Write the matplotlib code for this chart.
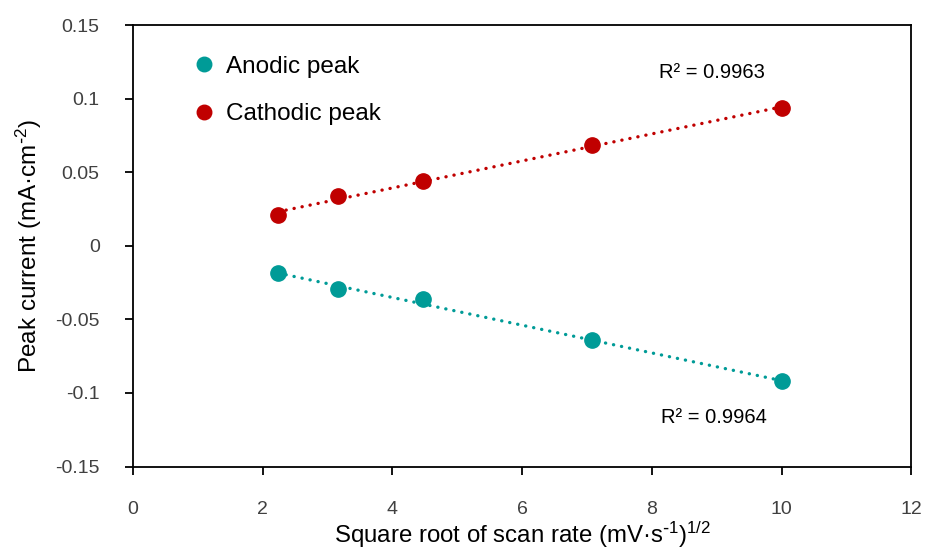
import numpy as np
import matplotlib
matplotlib.use("Agg")
import matplotlib.pyplot as plt

plt.rcParams['font.family'] = ['Liberation Sans', 'DejaVu Sans']
plt.rcParams['mathtext.default'] = 'regular'

# Data
sqrt_scan_rate = [2.236, 3.162, 4.472, 7.071, 10.0]
anodic_peak = [-0.0187, -0.0296, -0.0364, -0.0643, -0.0922]
cathodic_peak = [0.0207, 0.0337, 0.0439, 0.0684, 0.0935]
r2_anodic = "R² = 0.9964"
r2_cathodic = "R² = 0.9963"
x_ticks = [0, 2, 4, 6, 8, 10, 12]
y_ticks = [-0.15, -0.1, -0.05, 0, 0.05, 0.1, 0.15]
y_tick_labels = ["-0.15", "-0.1", "-0.05", "0", "0.05", "0.1", "0.15"]

teal = "#009B97"
red = "#C00000"

fig = plt.figure(figsize=(9.25, 5.49), dpi=100)
ax = fig.add_axes([133/925, 1-466.5/549, (911.5-133)/925, (466.5-25)/549])

x = np.array(sqrt_scan_rate)
xs = np.array([x.min(), x.max()])
for ys, c in [(anodic_peak, teal), (cathodic_peak, red)]:
    p = np.polyfit(x, ys, 1)
    ax.plot(xs, np.polyval(p, xs), color=c, lw=2.4, ls=(0, (0.05, 2.4)),
            dash_capstyle='round', zorder=2)

ax.plot(x, anodic_peak, 'o', color=teal, ms=11, label='Anodic peak', zorder=3)
ax.plot(x, cathodic_peak, 'o', color=red, ms=11, label='Cathodic peak', zorder=3)

ax.set_xlim(0, 12)
ax.set_ylim(-0.15, 0.15)
ax.set_xticks(x_ticks)
ax.set_xticklabels([str(t) for t in x_ticks])
ax.set_yticks(y_ticks)
ax.set_yticklabels(y_tick_labels)
ax.tick_params(direction='out', length=6, width=1.3, color='black',
               labelsize=14, labelcolor='#404040')
ax.tick_params(axis='y', pad=18)
ax.tick_params(axis='x', pad=19)
for s in ax.spines.values():
    s.set_linewidth(1.3)
    s.set_color('black')

ax.set_xlabel(r"Square root of scan rate (mV·s$^{\text{-}1}$)$^{1/2}$", fontsize=17.3, labelpad=1)
ax.set_ylabel(r"Peak current (mA·cm$^{\text{-}2}$)", fontsize=17.5, labelpad=8)

ax.text(8.92, 0.118, r2_cathodic, ha='center', va='center', fontsize=14.5)
ax.text(8.95, -0.1167, r2_anodic, ha='center', va='center', fontsize=14.5)

leg = ax.legend(loc='upper left', bbox_to_anchor=(0.054, 0.98), frameon=False,
                fontsize=17.5, handlelength=0.6, handletextpad=0.6,
                labelspacing=1.05, markerscale=0.95)

fig.savefig("out.png", dpi=100)
